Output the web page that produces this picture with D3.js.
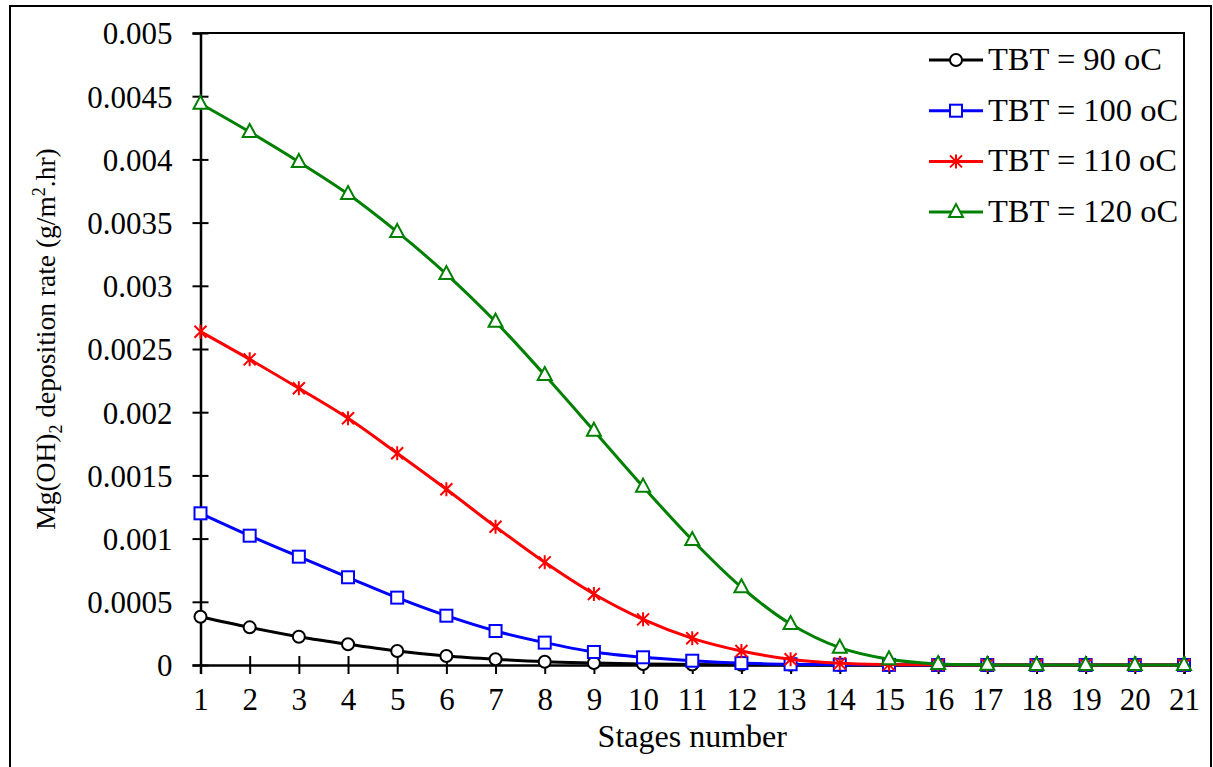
<!DOCTYPE html>
<html>
<head>
<meta charset="utf-8">
<script src="https://cdn.jsdelivr.net/npm/d3@7"></script>
<style>
body { margin: 0; background: #fff; }
svg text { font-family: "Liberation Serif", "Times New Roman", serif; fill: #000; }
</style>
</head>
<body>
<div class="svg-container"></div>
<script>
// values
var stages = [1, 2, 3, 4, 5, 6, 7, 8, 9, 10, 11, 12, 13, 14, 15, 16, 17, 18, 19, 20, 21];
var tbt90  = [0.000382, 0.000298, 0.000224, 0.000164, 0.000111, 0.000071, 0.000045, 0.000026, 0.000016, 0.000008, 0.000004, 0.000002, 0.000001, 0, 0, 0, 0, 0, 0, 0, 0];
var tbt100 = [0.0012, 0.001023, 0.000857, 0.000694, 0.000533, 0.00039, 0.000269, 0.000177, 0.000103, 0.000061, 0.000034, 0.000015, 0.000006, 0.000002, 0.000001, 0, 0, 0, 0, 0, 0];
var tbt110 = [0.002637, 0.002418, 0.002189, 0.001952, 0.001675, 0.00139, 0.001094, 0.000812, 0.000562, 0.000361, 0.000211, 0.000111, 0.000045, 0.000013, 0.000003, 0.000001, 0, 0, 0, 0, 0];
var tbt120 = [0.00444, 0.004217, 0.00398, 0.003726, 0.003426, 0.003093, 0.002716, 0.002294, 0.001854, 0.001411, 0.000989, 0.000615, 0.000324, 0.000137, 0.000045, 0.000008, 0.000001, 0, 0, 0, 0];
var seriesNames = ["TBT = 90 oC", "TBT = 100 oC", "TBT = 110 oC", "TBT = 120 oC"];
var yTicks = [0, 0.0005, 0.001, 0.0015, 0.002, 0.0025, 0.003, 0.0035, 0.004, 0.0045, 0.005];

var fullWidth = 1213,
    fullHeight = 767,
    plotLeft = 200.5, plotRight = 1184,
    plotTop = 33, plotBottom = 665;

var series = [
  {name: seriesNames[0], values: tbt90,  color: "#000000", marker: "circle"},
  {name: seriesNames[1], values: tbt100, color: "#0000ff", marker: "square"},
  {name: seriesNames[2], values: tbt110, color: "#ff0000", marker: "star"},
  {name: seriesNames[3], values: tbt120, color: "#008000", marker: "triangle"}
];

var svg = d3.select(".svg-container")
  .append("svg")
  .attr("width", fullWidth)
  .attr("height", fullHeight);

// outer chart frame
svg.append("rect")
  .attr("x", 10).attr("y", 6)
  .attr("width", 1201).attr("height", 790)
  .attr("fill", "none")
  .attr("stroke", "#000")
  .attr("stroke-width", 2);

var xScale = d3.scaleLinear().domain([1, 21]).range([plotLeft, plotRight]);
var yScale = d3.scaleLinear().domain([0, 0.005]).range([plotBottom, plotTop]);

// top and right edge of the plot area
svg.append("path")
  .attr("d", "M" + plotLeft + "," + yScale(0.005) + "H" + xScale(21) + "V" + yScale(0))
  .attr("fill", "none")
  .attr("stroke", "#000")
  .attr("stroke-width", 2);

var yAxis = svg.append("g")
  .attr("transform", "translate(" + plotLeft + ",0)")
  .call(d3.axisLeft(yScale)
    .tickValues(yTicks)
    .tickSize(8)
    .tickPadding(20)
    .tickFormat(function(d) { return d === 0 ? "0" : String(+d.toFixed(4)); }));

var xAxis = svg.append("g")
  .attr("transform", "translate(0," + plotBottom + ")")
  .call(d3.axisBottom(xScale)
    .tickValues(stages)
    .tickSize(9)
    .tickPadding(14)
    .tickFormat(d3.format("d")));

[xAxis, yAxis].forEach(function(ax) {
  ax.select(".domain").attr("stroke-width", 2.5);
  ax.selectAll(".tick line").attr("stroke-width", 2);
  ax.selectAll(".tick text").attr("font-size", 31).attr("font-family", "Liberation Serif, serif");
});
yAxis.selectAll(".tick line").attr("x1", 8);
xAxis.selectAll(".tick line").attr("y1", -9);
yAxis.selectAll(".tick text").attr("dy", "0.35em");

var line = d3.line()
  .x(function(d, i) { return xScale(stages[i]); })
  .y(function(d) { return yScale(d); })
  .curve(d3.curveCatmullRom.alpha(0.5));

function drawMarker(g, type, color) {
  if (type === "circle") {
    g.append("circle").attr("r", 6)
      .attr("fill", "#fff").attr("stroke", color).attr("stroke-width", 2);
  } else if (type === "square") {
    g.append("rect").attr("x", -6).attr("y", -6).attr("width", 12).attr("height", 12)
      .attr("fill", "#fff").attr("stroke", color).attr("stroke-width", 2);
  } else if (type === "star") {
    g.append("path").attr("d", "M-6,-6L6,6M-6,6L6,-6M0,-7V7")
      .attr("fill", "none").attr("stroke", color).attr("stroke-width", 2);
  } else {
    g.append("path").attr("d", "M0,-8L7,5H-7Z")
      .attr("fill", "#fff").attr("stroke", color).attr("stroke-width", 2);
  }
}

series.forEach(function(s) {
  var g = svg.append("g").attr("class", "series");
  g.append("path")
    .datum(s.values)
    .attr("fill", "none")
    .attr("stroke", s.color)
    .attr("stroke-width", 3)
    .attr("d", line);
  g.selectAll(".pt")
    .data(s.values)
    .enter()
    .append("g")
    .attr("class", "pt")
    .attr("transform", function(d, i) { return "translate(" + xScale(stages[i]) + "," + yScale(d) + ")"; })
    .each(function() { drawMarker(d3.select(this), s.marker, s.color); });
});

// legend
var legend = svg.append("g").attr("transform", "translate(929,60)");
series.forEach(function(s, i) {
  var row = legend.append("g").attr("transform", "translate(0," + (i * 50.7) + ")");
  row.append("line").attr("x1", 0).attr("x2", 54)
    .attr("stroke", s.color).attr("stroke-width", 3);
  drawMarker(row.append("g").attr("transform", "translate(27,0)"), s.marker, s.color);
  row.append("text").attr("x", 59).attr("y", 10)
    .attr("font-size", 32.5)
    .text(s.name);
});

// axis titles
svg.append("text")
  .attr("x", (plotLeft + plotRight) / 2)
  .attr("y", 747)
  .attr("text-anchor", "middle")
  .attr("font-size", 32)
  .text("Stages number");

var yTitle = svg.append("text")
  .attr("transform", "translate(55,339) rotate(-90)")
  .attr("font-size", 27.5);
yTitle.append("tspan").text("Mg(OH)");
yTitle.append("tspan").attr("font-size", 18).attr("dy", 7).text("2");
yTitle.append("tspan").attr("dy", -7).text(" deposition rate (g/m");
yTitle.append("tspan").attr("font-size", 18).attr("dy", -10).text("2");
yTitle.append("tspan").attr("dy", 10).text(".hr)");
// centre the multi-part title on its own measured length
var titleLen = yTitle.node().getComputedTextLength();
yTitle.attr("x", -titleLen / 2);
</script>
</body>
</html>
